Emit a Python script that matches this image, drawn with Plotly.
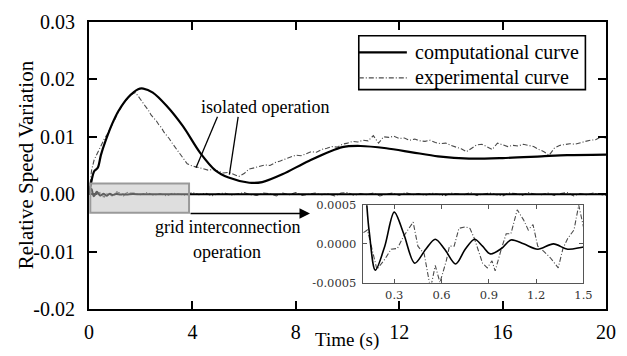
import numpy as np
import plotly.graph_objects as go

# ---------------- data ----------------
# isolated operation - computational curve
iso_comp_t = [0.0, 0.1, 0.2, 0.34, 0.46, 0.65, 0.9, 1.14, 1.52, 1.9, 2.1, 2.47, 3.0, 3.64,
              4.3, 4.9, 5.4, 6.2, 6.7, 7.5, 8.5, 9.8, 10.5, 11.5, 12.5, 13.5, 14.7, 16.0,
              17.5, 18.5, 20.0]
iso_comp_v = [0.0000, 0.0024, 0.0040, 0.0046, 0.0068, 0.0094, 0.0123, 0.0145, 0.0169, 0.0183,
              0.0184, 0.0177, 0.0154, 0.0118, 0.0072, 0.0041, 0.0029, 0.0020, 0.0021, 0.0035,
              0.0058, 0.0082, 0.0084, 0.0080, 0.0073, 0.0066, 0.0062, 0.0063, 0.0066, 0.0068,
              0.0069]

# isolated operation - experimental curve (0..4 s every 0.1 s, then every 0.2 s)
iso_exp_t = list(np.round(np.arange(0.0, 4.0001, 0.1), 2)) + list(np.round(np.arange(4.2, 20.0001, 0.2), 2))
iso_exp_v = [0.0000, 0.0042, 0.0060, 0.0070, 0.0080, 0.0088, 0.0097, 0.0104, 0.0112, 0.0121,
             0.0130, 0.0140, 0.0149, 0.0156, 0.0162, 0.0167, 0.0172, 0.0175, 0.0177, 0.0171,
             0.0164, 0.0157, 0.0152, 0.0146, 0.0138, 0.0133, 0.0128, 0.0121, 0.0116, 0.0108,
             0.0103, 0.0097, 0.0090, 0.0084, 0.0078, 0.0071, 0.0064, 0.0058, 0.0053, 0.0051,
             0.0049,
             0.0047, 0.0044, 0.0042, 0.0043, 0.0040, 0.0037, 0.0038, 0.0035, 0.0031, 0.0036,
             0.0044, 0.0046, 0.0048, 0.0051, 0.0050, 0.0055, 0.0058, 0.0061, 0.0065, 0.0068,
             0.0067, 0.0071, 0.0074, 0.0073, 0.0078, 0.0080, 0.0083, 0.0082, 0.0087, 0.0089,
             0.0092, 0.0091, 0.0094, 0.0093, 0.0102, 0.0089, 0.0100, 0.0099, 0.0101, 0.0097,
             0.0098, 0.0094, 0.0096, 0.0093, 0.0092, 0.0094, 0.0090, 0.0088, 0.0089, 0.0085,
             0.0082, 0.0079, 0.0074, 0.0080, 0.0086, 0.0087, 0.0082, 0.0078, 0.0089, 0.0086,
             0.0083, 0.0085, 0.0084, 0.0087, 0.0085, 0.0083, 0.0078, 0.0074, 0.0068, 0.0080,
             0.0085, 0.0086, 0.0088, 0.0087, 0.0090, 0.0092, 0.0094, 0.0095, 0.0100, 0.0098]

# grid interconnection - computational curve (detail 0.1..1.5 s shown in inset)
grid_comp_t = [0.0, 0.06, 0.10, 0.14, 0.18, 0.24, 0.30, 0.36, 0.43, 0.50, 0.56, 0.62, 0.69,
               0.75, 0.81, 0.86, 0.91, 0.98, 1.04, 1.12, 1.21, 1.31, 1.40, 1.50, 1.70, 2.0,
               2.5, 20.0]
grid_comp_v = [0.0, 0.0007, 0.0009, 0.00018, -0.00034, -0.00003, 0.00041, 0.00013, -0.00025,
               -0.00007, 0.00006, -0.00007, -0.00026, -0.00007, 0.00006, -0.00003, -0.00013,
               -0.00006, 0.00005, 0.0, -0.00007, 0.0, -0.00007, -0.00004, 0.00002, -0.00002,
               0.0, 0.0]

# grid interconnection - experimental curve
grid_exp_t = [0.0, 0.10, 0.13, 0.19, 0.24, 0.28, 0.32, 0.36, 0.42, 0.45, 0.49, 0.53, 0.56,
              0.59, 0.63, 0.65, 0.68, 0.71, 0.75, 0.78, 0.81, 0.86, 0.89, 0.92, 0.94, 0.98,
              1.01, 1.04, 1.08, 1.12, 1.15, 1.18, 1.21, 1.25, 1.29, 1.34, 1.37, 1.40, 1.44,
              1.47, 1.50] + list(np.round(np.arange(1.75, 20.0001, 0.25), 2))
grid_exp_v = [0.0, 0.00013, 0.00018, -0.00033, -0.00020, -0.00007, -0.00006, 0.00010,
              0.00028, -0.00003, -0.00013, -0.00058, -0.00028, -0.00050, -0.00022, -0.00003,
              -0.00003, 0.00020, 0.00022, 0.00020, 0.00006, -0.00025, -0.00031, -0.00022,
              -0.00035, -0.00006, 0.00013, 0.00013, 0.00044, 0.00031, 0.00018, 0.00025,
              -0.00003, -0.00010, -0.00018, -0.00031, -0.00006, 0.00007, 0.00018, 0.00050,
              0.00022] + [v * 1e-4 for v in
              [2, -1, 3, -2, 1, -3, 2, 0, -2, 3, -1, 2, -3, 1, 2, -2, 0, 3, -1, -2, 2, 1, -3, 2,
               -1, 3, -2, 0, 2, -1, 1, -3, 2, 3, -2, 1, -1, 2, -3, 0, 2, -2, 3, -1, 1, -2, 2, 0,
               -3, 2, 1, -1, 3, -2, 0, 2, -1, -3, 2, 1, -2, 3, 0, -1, 2, -2, 1, 3, -3, 1, -1, 2,
               0, -2]]

x_tick_vals = [0, 4, 8, 12, 16, 20]
x_tick_text = ["0", "4", "8", "12", "16", "20"]
y_tick_vals = [-0.02, -0.01, 0.0, 0.01, 0.02, 0.03]
y_tick_text = ["-0.02", "-0.01", "0.00", "0.01", "0.02", "0.03"]
ix_tick_vals = [0.3, 0.6, 0.9, 1.2, 1.5]
ix_tick_text = ["0.3", "0.6", "0.9", "1.2", "1.5"]
iy_tick_vals = [-0.0005, 0.0, 0.0005]
iy_tick_text = ["-0.0005", "0.0000", "0.0005"]

# ---------------- figure ----------------
SERIF = "Liberation Serif"
INSET_FONT = "DejaVu Serif"
EXP_COLOR = "#4a4a4a"
EXP_DASH = "5px,2px,1px,2px"

fig = go.Figure()

for xa, ya in (("x", "y"), ("x2", "y2")):
    fig.add_trace(go.Scatter(x=grid_exp_t, y=grid_exp_v, mode="lines", xaxis=xa, yaxis=ya,
                             line=dict(color=EXP_COLOR, width=1.1, dash=EXP_DASH),
                             showlegend=False, hoverinfo="skip"))
    fig.add_trace(go.Scatter(x=grid_comp_t, y=grid_comp_v, mode="lines", xaxis=xa, yaxis=ya,
                             line=dict(color="black", width=2 if xa == "x" else 1.6,
                                       shape="spline", smoothing=0.9),
                             showlegend=False, hoverinfo="skip"))

fig.add_trace(go.Scatter(x=iso_exp_t, y=iso_exp_v, mode="lines",
                         line=dict(color=EXP_COLOR, width=1.1, dash=EXP_DASH),
                         showlegend=False, hoverinfo="skip"))
fig.add_trace(go.Scatter(x=iso_comp_t, y=iso_comp_v, mode="lines",
                         line=dict(color="black", width=2.2, shape="spline", smoothing=0.8),
                         showlegend=False, hoverinfo="skip"))

axis_common = dict(showline=True, linecolor="black", linewidth=2, mirror="ticks",
                   ticks="inside", ticklen=8, tickwidth=2, tickcolor="black",
                   showgrid=False, zeroline=False,
                   tickfont=dict(family=SERIF, size=20, color="black"))
inset_common = dict(showline=True, linecolor="#555", linewidth=1, mirror="ticks",
                    ticks="inside", ticklen=4, tickwidth=1, tickcolor="#555",
                    showgrid=False, zeroline=False,
                    tickfont=dict(family=INSET_FONT, size=11.5, color="#333"))

fig.update_layout(
    width=627, height=356,
    margin=dict(l=89, r=11, t=16, b=47),
    paper_bgcolor="white", plot_bgcolor="white",
    showlegend=False,
    font=dict(family=SERIF, color="black"),
    xaxis=dict(range=[0, 20], tickvals=x_tick_vals, ticktext=x_tick_text, domain=[0, 1],
               ticklabelstandoff=4, **axis_common),
    yaxis=dict(range=[-0.02, 0.03], tickvals=y_tick_vals, ticktext=y_tick_text, domain=[0, 1],
               ticklabelstandoff=8, **axis_common),
    xaxis2=dict(range=[0.1, 1.5], tickvals=ix_tick_vals, ticktext=ix_tick_text,
                domain=[0.5294, 0.9564], anchor="y2", ticklabelstandoff=2, **inset_common),
    yaxis2=dict(range=[-0.0005, 0.0005], tickvals=iy_tick_vals, ticktext=iy_tick_text,
                domain=[0.0922, 0.3618], anchor="x2", ticklabelstandoff=3, **inset_common),
)

# shaded region and arrow
fig.add_shape(type="rect", xref="x", yref="y", x0=0.05, x1=3.87, y0=-0.00324, y1=0.00188,
              fillcolor="rgba(190,190,190,0.5)", line=dict(color="#9a9a9a", width=2),
              layer="above")
fig.add_annotation(x=8.55, y=-0.00335, ax=3.87, ay=-0.00335, xref="x", yref="y",
                   axref="x", ayref="y", showarrow=True, arrowhead=2, arrowsize=1.5,
                   arrowwidth=1.4, arrowcolor="black", text="")

# leader lines for "isolated operation"
fig.add_shape(type="line", xref="x", yref="y", x0=4.97, y0=0.01348, x1=4.14, y1=0.0046,
              line=dict(color="black", width=1.3))
fig.add_shape(type="line", xref="x", yref="y", x0=5.77, y0=0.01348, x1=5.43, y1=0.0034,
              line=dict(color="black", width=1.3))

txt = dict(family=SERIF, size=18, color="black")
fig.add_annotation(x=6.79, y=0.0152, xref="x", yref="y", text="isolated operation",
                   xanchor="center", yanchor="middle", showarrow=False, font=txt)
fig.add_annotation(x=5.35, y=-0.0058, xref="x", yref="y", text="grid interconnection",
                   xanchor="center", yanchor="middle", showarrow=False, font=txt)
fig.add_annotation(x=5.35, y=-0.0101, xref="x", yref="y", text="operation",
                   xanchor="center", yanchor="middle", showarrow=False, font=txt)

# axis titles
fig.add_annotation(x=(25 - 89) / 527, y=(309 - 162) / 293, xref="paper", yref="paper",
                   text="Relative Speed Variation", textangle=-90, showarrow=False,
                   xanchor="center", yanchor="middle",
                   font=dict(family=SERIF, size=21, color="black"))
fig.add_annotation(x=(352 - 89) / 527, y=(309 - 341) / 293, xref="paper", yref="paper",
                   text="Time (s)", showarrow=False, xanchor="center", yanchor="middle",
                   font=dict(family=SERIF, size=19, color="black"))

# legend box
lx0, lx1 = (364 - 89) / 527, (595 - 89) / 527
ly0, ly1 = (309 - 85) / 293, (309 - 30) / 293
fig.add_shape(type="rect", xref="paper", yref="paper", x0=lx0, x1=lx1, y0=ly0, y1=ly1,
              line=dict(color="black", width=1.6), fillcolor="white", layer="above")
legend_rows = [("computational curve", (309 - 47) / 293, "black", 2.2, "solid"),
               ("experimental curve", (309 - 73) / 293, EXP_COLOR, 1.1, EXP_DASH)]
for label, yy, col, w, dash in legend_rows:
    fig.add_shape(type="line", xref="paper", yref="paper", x0=lx0, x1=(413 - 89) / 527,
                  y0=yy, y1=yy, line=dict(color=col, width=w, dash=dash), layer="above")
    fig.add_annotation(x=(419 - 89) / 527, y=yy, xref="paper", yref="paper", text=label,
                       xanchor="left", yanchor="middle", showarrow=False,
                       font=dict(family=SERIF, size=20, color="black"))

fig.write_html("out.html")
